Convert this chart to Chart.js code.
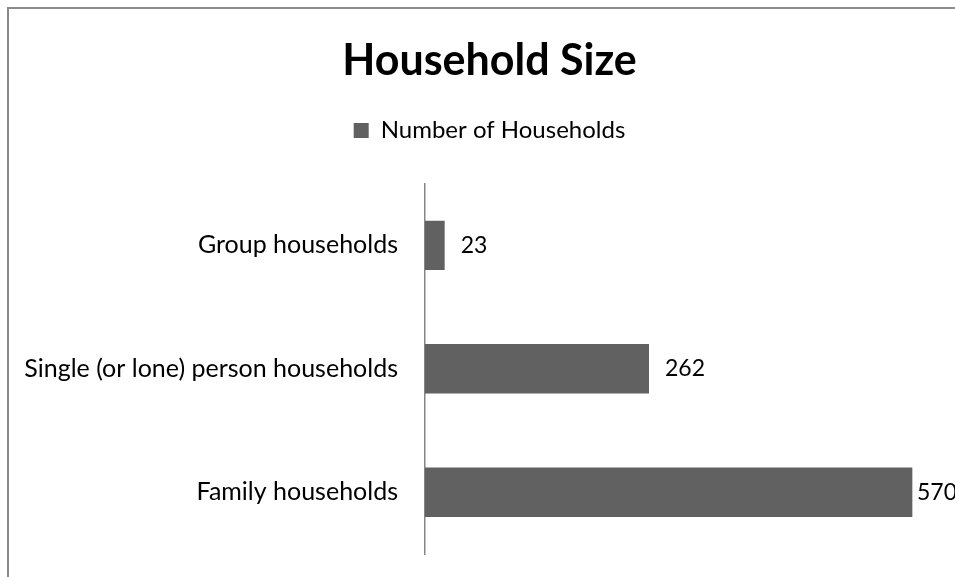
<!DOCTYPE html>
<html>
<head>
<meta charset="utf-8">
<script src="https://cdn.jsdelivr.net/npm/chart.js@4"></script>
<style>
  html, body { margin: 0; padding: 0; background: #fff; overflow: hidden; }
  #frame {
    position: absolute; left: 7px; top: 7px;
    width: 964px; height: 600px;
    border: 2px solid #8a8a8a;
  }
</style>
</head>
<body>
<div id="frame"><canvas id="householdChart"></canvas></div>
<script>
const categories = ['Group households', 'Single (or lone) person households', 'Family households'];
const households = [23, 262, 570];
const seriesName = 'Number of Households';

const barColor = '#616161';
const axisColor = '#868686';
const fontFamily = "Lato, 'Noto Sans', sans-serif";

Chart.defaults.font.family = fontFamily;
Chart.defaults.color = '#000';

// push the plot area down below the legend, and centre title + legend on the whole frame
const headerLayout = {
  id: 'headerLayout',
  beforeInit(chart) {
    const fit = chart.legend.fit;
    chart.legend.fit = function() {
      fit.call(this);
      this.height += 31;
    };
  },
  afterLayout(chart) {
    [chart.titleBlock, chart.legend].forEach(b => {
      b.left += 16;
      b.right += 16;
    });
  }
};

// value labels at the end of each bar
const barLabels = {
  id: 'barLabels',
  afterDatasetsDraw(chart) {
    const ctx = chart.ctx;
    const meta = chart.getDatasetMeta(0);
    const right = chart.chartArea.right + 19;
    ctx.save();
    ctx.font = '23px ' + fontFamily;
    ctx.fillStyle = '#000';
    ctx.textBaseline = 'middle';
    meta.data.forEach((bar, i) => {
      const text = String(households[i]);
      const w = ctx.measureText(text).width;
      const x = Math.min(bar.x + 16, right - w);
      ctx.fillText(text, x, bar.y);
    });
    ctx.restore();
  }
};

new Chart(document.getElementById('householdChart'), {
  type: 'bar',
  data: {
    labels: categories,
    datasets: [{
      label: seriesName,
      data: households,
      backgroundColor: barColor,
      borderWidth: 0,
      barPercentage: 0.4,
      categoryPercentage: 1,
    }]
  },
  options: {
    indexAxis: 'y',
    responsive: true,
    maintainAspectRatio: false,
    animation: false,
    layout: { padding: { left: 0, right: 35, top: 0, bottom: 55 } },
    plugins: {
      title: {
        display: true,
        text: 'Household Size',
        font: { size: 43, weight: 'bold' },
        color: '#000',
        padding: { top: 26, bottom: 0 },
      },
      legend: {
        position: 'top',
        labels: {
          boxWidth: 15,
          boxHeight: 15,
          padding: 32,
          font: { size: 24 },
          color: '#000',
        }
      },
      tooltip: { enabled: false }
    },
    scales: {
      x: {
        display: false,
        min: 0,
        max: 600,
      },
      y: {
        grid: { display: false, drawTicks: false },
        border: { display: true, color: axisColor, width: 1.5 },
        ticks: { padding: 27, font: { size: 25 }, color: '#000' },
        afterFit(scale) { scale.width = 416; }
      }
    }
  },
  plugins: [headerLayout, barLabels]
});
</script>
</body>
</html>
